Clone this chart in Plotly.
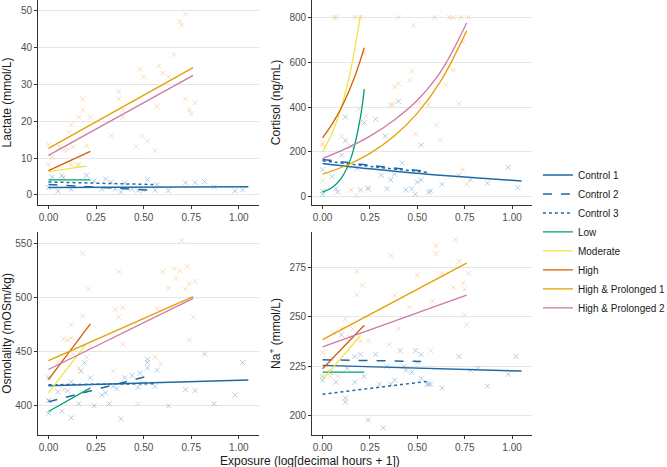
import plotly.graph_objects as go

# ---------------- data ----------------
GROUPS = ["Control 1", "Control 2", "Control 3", "Low", "Moderate", "High",
          "High & Prolonged 1", "High & Prolonged 2"]
GROUP_COLORS = ["#1f6aa5", "#1f6aa5", "#1f6aa5", "#009E73", "#F0E442", "#D55E00",
                "#E69F00", "#CC79A7"]
GROUP_DASH = ["solid", "dash", "dot", "solid", "solid", "solid", "solid", "solid"]
GROUP_XMAX = [1.05, 0.52, 0.56, 0.22, 0.20, 0.22, 0.76, 0.76]

# linear fits (value at x=0, value at group's max x)
LAC_START = [2.0, 2.8, 3.5, 4.1, 6.3, 6.6, 12.6, 10.7]
LAC_END = [2.2, 1.3, 2.8, 4.1, 7.8, 11.8, 34.5, 32.4]
OSM_START = [418.5, 403.7, 419.5, 394.8, 412.0, 424.3, 441.9, 433.6]
OSM_END = [423.8, 427.5, 420.5, 416.6, 457.6, 475.8, 501.0, 499.5]
NA_START = [225.5, 228.3, 210.9, 222.1, 218.3, 223.8, 238.5, 234.8]
NA_END = [222.6, 227.5, 217.5, 222.1, 240.6, 245.8, 277.2, 261.0]

# cortisol curves read at several x positions
COR_CURVE_X = [
    [0, 0.25, 0.5, 0.75, 1.05],
    [0, 0.26, 0.52],
    [0, 0.28, 0.56],
    [0, 0.05, 0.10, 0.15, 0.20, 0.22],
    [0, 0.05, 0.10, 0.15, 0.20],
    [0, 0.055, 0.11, 0.165, 0.22],
    [0, 0.125, 0.25, 0.375, 0.5, 0.625, 0.76],
    [0, 0.125, 0.25, 0.375, 0.5, 0.625, 0.76],
]
COR_CURVE_Y = [
    [148, 124, 104, 87, 70],
    [166, 139, 115],
    [160, 132, 108],
    [20, 41, 84, 173, 356, 480],
    [200, 284, 403, 572, 811],
    [262, 330, 416, 525, 665],
    [100, 139, 193, 268, 373, 518, 740],
    [170, 215, 270, 340, 430, 560, 775],
]

# observations: exposed (warm) and control (blue)
LAC_EXP_X = [0, 0, 0.02, 0.1, 0.08, 0.12, 0.11, 0.13, 0.16, 0.18, 0.18, 0.2, 0.22, 0.16, 0.12,
             0.33, 0.37, 0.37, 0.39, 0.39, 0.48, 0.5, 0.49, 0.46, 0.52, 0.56, 0.57, 0.58, 0.6,
             0.63, 0.66, 0.69, 0.7, 0.72, 0.72, 0.74, 0.75, 0.77, 0.06, 0.15]
LAC_EXP_Y = [13.6, 8.2, 10.2, 12.2, 12.2, 19, 17, 13, 21, 26, 23, 13.3, 21, 8.2, 8.2,
             16, 28, 26, 23, 21, 34, 32, 16, 13.1, 14.6, 12, 24, 35, 33,
             32, 38, 47, 46, 49, 26, 23, 22, 25, 13, 8.2]
LAC_CON_X = [0, 0.02, 0.05, 0.07, 0.08, 0.12, 0.2, 0.24, 0.3, 0.33, 0.38, 0.4, 0.44, 0.52,
             0.5, 0.56, 0.57, 0.63, 0.72, 0.77, 0.82, 0.98, 1.02, 0.87, 0.28, 0.35, 0.47]
LAC_CON_Y = [2, 4.8, 1, 5.2, 4.7, 1.5, 5.3, 3.8, 4.3, 3.5, 0.8, 3.2, 1.5, 4.2,
             1.3, 1.3, 2.8, 1.2, 3.3, 3.4, 3.6, 1.1, 1.4, 2.2, 1.6, 1.6, 1.2]

COR_EXP_X = [0.06, 0.07, 0.17, 0.2, 0.4, 0.59, 0.67, 0.69, 0.73, 0.77, 0.48, 0.22, 0.47, 0.69,
             0.46, 0.4, 0.38, 0.36, 0.37, 0.56, 0.72, 0.6, 0.62, 0.49, 0.23, 0.2, 0.65, 0.74,
             0.51, 0, 0, 0, 0.1, 0.15, 0.18, 0.24, 0.74, 0.76, 0.14, 0.19]
COR_EXP_Y = [800, 800, 800, 800, 800, 800, 800, 800, 800, 800, 765, 640, 560, 565,
             520, 505, 490, 410, 410, 410, 415, 320, 255, 280, 360, 330, 500, 690,
             420, 230, 240, 70, 270, 30, 5, 40, 120, 55, 130, 390]
COR_CON_X = [0, 0, 0, 0.05, 0.07, 0.08, 0.1, 0.12, 0.12, 0.15, 0.18, 0.2, 0.24, 0.22, 0.28,
             0.31, 0.34, 0.36, 0.38, 0.4, 0.42, 0.44, 0.47, 0.49, 0.5, 0.52, 0.52, 0.56,
             0.57, 0.63, 0.72, 0.78, 0.87, 0.98, 1.03, 0.33]
COR_CON_Y = [120, 25, 10, 90, 35, 20, 185, 355, 250, 225, 125, 30, 35, 330, 345,
             95, 35, 75, 100, 425, 150, 30, 35, 10, 65, 230, 75, 20,
             25, 55, 95, 75, 60, 130, 40, 270]

OSM_EXP_X = [0.18, 0.21, 0.18, 0.12, 0.08, 0.1, 0.12, 0.05, 0.13, 0.16, 0.2, 0.22, 0, 0.08,
             0.37, 0.35, 0.37, 0.39, 0.39, 0.34, 0.6, 0.66, 0.67, 0.69, 0.7, 0.72, 0.73,
             0.74, 0.74, 0.76, 0.77, 0.63, 0.57, 0.59, 0.47, 0.56]
OSM_EXP_Y = [541, 508, 483, 475, 462, 461, 463, 440, 448, 435, 445, 455, 405, 415,
             524, 489, 482, 491, 457, 432, 524, 527, 518, 525, 553, 508, 529,
             461, 513, 482, 515, 509, 490, 439, 402, 445]
OSM_CON_X = [0, 0, 0, 0.07, 0.05, 0.1, 0.12, 0.12, 0.16, 0.17, 0.19, 0.22, 0.24, 0.28, 0.3,
             0.32, 0.34, 0.36, 0.38, 0.4, 0.44, 0.47, 0.48, 0.5, 0.52, 0.52, 0.52, 0.56,
             0.57, 0.63, 0.72, 0.77, 0.82, 0.87, 0.98, 1.02]
OSM_CON_Y = [393, 426, 405, 395, 413, 414, 422, 389, 402, 432, 440, 426, 400, 410, 412,
             402, 418, 416, 388, 426, 428, 417, 430, 421, 443, 440, 435, 418,
             433, 400, 415, 414, 448, 402, 410, 440]

NA_EXP_X = [0.18, 0.21, 0.18, 0.12, 0.1, 0.06, 0.14, 0.16, 0.2, 0.24, 0.36, 0.38, 0.35, 0.4,
            0.46, 0.5, 0.57, 0.58, 0.6, 0.6, 0.63, 0.69, 0.7, 0.72, 0.74, 0.75, 0.75,
            0.76, 0.77, 0, 0.05, 0.08, 0.04]
NA_EXP_Y = [273, 266, 261, 249, 244, 242, 240, 244, 238, 238, 281, 261, 236, 244,
            255, 271, 233, 258, 286, 282, 272, 265, 289, 278, 267, 264, 251,
            246, 272, 232, 229, 220, 220]
NA_CON_X = [0, 0, 0.04, 0.07, 0.1, 0.12, 0.12, 0.13, 0.17, 0.17, 0.2, 0.22, 0.24, 0.28, 0.3,
            0.32, 0.34, 0.36, 0.38, 0.41, 0.43, 0.44, 0.47, 0.49, 0.5, 0.52, 0.52, 0.55,
            0.56, 0.57, 0.63, 0.72, 0.78, 0.82, 0.87, 0.98, 1.02]
NA_CON_Y = [220, 218, 222, 217, 241, 209, 207, 224, 217, 230, 231, 220, 198, 231, 216,
            194, 225, 216, 218, 233, 225, 223, 222, 233, 227, 231, 219, 216,
            216, 216, 214, 230, 223, 224, 215, 221, 230]

X_TICKS = [0, 0.25, 0.5, 0.75, 1.0]
X_TICK_TEXT = ["0.00", "0.25", "0.50", "0.75", "1.00"]

# ---------------- figure ----------------
FONT = "Liberation Sans, Arial, sans-serif"
EXP_COLOR = "rgba(240,170,90,0.40)"
CON_COLOR = "rgba(70,140,200,0.42)"

fig = go.Figure()

panels = [
    ("x", "y", LAC_EXP_X, LAC_EXP_Y, LAC_CON_X, LAC_CON_Y),
    ("x2", "y2", COR_EXP_X, COR_EXP_Y, COR_CON_X, COR_CON_Y),
    ("x3", "y3", OSM_EXP_X, OSM_EXP_Y, OSM_CON_X, OSM_CON_Y),
    ("x4", "y4", NA_EXP_X, NA_EXP_Y, NA_CON_X, NA_CON_Y),
]

for xa, ya, ex, ey, cx, cy in panels:
    for px, py, col in [(ex, ey, EXP_COLOR), (cx, cy, CON_COLOR)]:
        fig.add_trace(go.Scatter(
            x=px, y=py, mode="markers", xaxis=xa, yaxis=ya, showlegend=False,
            hoverinfo="skip",
            marker=dict(symbol="x-thin", size=5, color=col, line=dict(width=1, color=col))))

line_sets = [("x", "y", LAC_START, LAC_END), ("x3", "y3", OSM_START, OSM_END),
             ("x4", "y4", NA_START, NA_END)]
for xa, ya, starts, ends in line_sets:
    for i, g in enumerate(GROUPS):
        fig.add_trace(go.Scatter(
            x=[0, GROUP_XMAX[i]], y=[starts[i], ends[i]], mode="lines",
            xaxis=xa, yaxis=ya, showlegend=False, name=g,
            line=dict(color=GROUP_COLORS[i], dash=GROUP_DASH[i],
                      width=1.5 if i < 3 else 1.3)))

for i, g in enumerate(GROUPS):
    fig.add_trace(go.Scatter(
        x=COR_CURVE_X[i], y=COR_CURVE_Y[i], mode="lines", xaxis="x2", yaxis="y2",
        name=g, showlegend=True, line_shape="spline",
        line=dict(color=GROUP_COLORS[i], dash=GROUP_DASH[i],
                  width=1.5 if i < 3 else 1.3)))

axis_common = dict(showline=True, linecolor="#333333", linewidth=1, ticks="outside",
                   ticklen=3, tickcolor="#333333", zeroline=False, automargin=False,
                   tickfont=dict(family=FONT, size=10, color="#4d4d4d"))
xcommon = dict(axis_common, showgrid=False, tickvals=X_TICKS, ticktext=X_TICK_TEXT,
               range=[-0.055, 1.105])
ycommon = dict(axis_common, showgrid=True, gridcolor="#e6e6e6", gridwidth=1)
title_font = dict(family=FONT, size=12, color="#1a1a1a")

XL = [0, 0.447]
XR = [0.555, 1.0]
YT = [0.529, 1.0]
YB = [0.0, 0.467]

fig.update_layout(
    width=667, height=467,
    margin=dict(l=38, r=135, t=0, b=32, autoexpand=False),
    paper_bgcolor="white", plot_bgcolor="white",
    font=dict(family=FONT, size=11, color="#1a1a1a"),
    xaxis=dict(xcommon, domain=XL, anchor="y"),
    yaxis=dict(ycommon, domain=YT, anchor="x", range=[-2.7, 52.8],
               tickvals=[0, 10, 20, 30, 40, 50],
               title=dict(text="Lactate (mmol/L)", font=title_font, standoff=6)),
    xaxis2=dict(xcommon, domain=XR, anchor="y2"),
    yaxis2=dict(ycommon, domain=YT, anchor="x2", range=[-37, 878],
                tickvals=[0, 200, 400, 600, 800],
                title=dict(text="Cortisol (ng/mL)", font=title_font, standoff=6)),
    xaxis3=dict(xcommon, domain=XL, anchor="y3"),
    yaxis3=dict(ycommon, domain=YB, anchor="x3", range=[373, 561],
                tickvals=[400, 450, 500, 550],
                title=dict(text="Osmolality (mOSm/kg)", font=title_font, standoff=6)),
    xaxis4=dict(xcommon, domain=XR, anchor="y4"),
    yaxis4=dict(ycommon, domain=YB, anchor="x4", range=[190.3, 293],
                tickvals=[200, 225, 250, 275],
                title=dict(text="Na<sup>+</sup> (mmol/L)", font=title_font, standoff=6)),
    legend=dict(x=1.012, xanchor="left", y=0.445, yanchor="middle",
                font=dict(family=FONT, size=10, color="#1a1a1a"),
                bgcolor="rgba(0,0,0,0)", itemwidth=30, tracegroupgap=0),
    annotations=[dict(text="Exposure (log[decimal hours + 1])", xref="paper", yref="paper",
                      x=0.55, y=-0.06, xanchor="center", yanchor="middle",
                      showarrow=False, font=title_font)],
)

fig.write_html("out.html", config={"displayModeBar": False},
               post_script="document.body.style.margin='0';")
